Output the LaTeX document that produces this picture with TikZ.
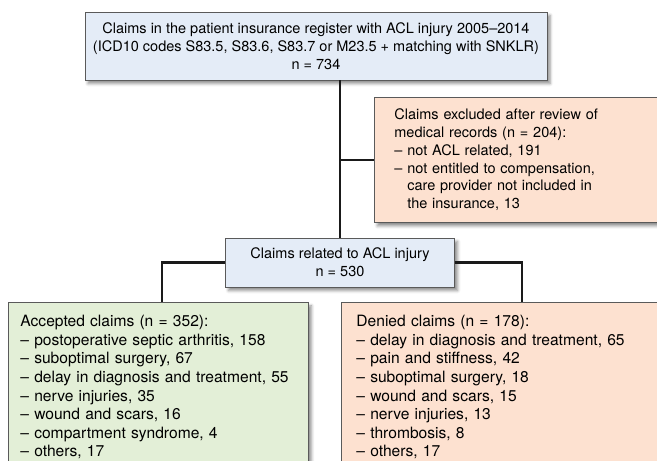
\documentclass[tikz,border=0pt]{standalone}
\usepackage{fontspec}
\setmainfont{TeX Gyre Heros}
\usetikzlibrary{shadows.blur}
\definecolor{bluebox}{HTML}{E4ECF7}
\definecolor{pinkbox}{HTML}{FDE1D0}
\definecolor{greenbox}{HTML}{E3EFD7}
\definecolor{boxline}{HTML}{5A5A5A}
\definecolor{connline}{HTML}{1A1A1A}
\begin{document}
\begin{tikzpicture}[x=1pt,y=-1pt,
  box/.style={draw=boxline, line width=0.8pt,
    blur shadow={shadow xshift=3pt, shadow yshift=-3.5pt, shadow blur radius=3pt, shadow opacity=45},
    font=\fontsize{14.5}{17.8}\selectfont},
  conn/.style={draw=connline, line width=2.8pt}]
\useasboundingbox (0,0) rectangle (657,461);

\node[box, fill=bluebox, minimum width=462pt, minimum height=68pt, align=center] (top) at (316,46)
  {Claims in the patient insurance register with ACL injury 2005–2014\\
   (ICD10 codes S83.5, S83.6, S83.7 or M23.5 + matching with SNKLR)\\
   n = 734};

\node[box, fill=pinkbox, anchor=north west, minimum width=310pt, minimum height=125pt,
  inner xsep=18pt, text width=270pt, align=left] (exc) at (374,97)
  {Claims excluded after review of\\
   medical records (n = 204):\\
   – not ACL related, 191\\
   – not entitled to compensation,\\
   \phantom{– }care provider not included in\\
   \phantom{– }the insurance, 13};

\node[box, fill=bluebox, minimum width=229pt, minimum height=49pt, align=center] (mid) at (340,262.5)
  {Claims related to ACL injury\\ n = 530};

\node[box, fill=greenbox, anchor=north west, minimum width=300pt, inner xsep=12pt, inner ysep=13pt,
  text width=276pt, align=left, font=\fontsize{15.6}{18.6}\selectfont] (acc) at (8,302)
  {Accepted claims (n = 352):\\
   – postoperative septic arthritis, 158\\
   – suboptimal surgery, 67\\
   – delay in diagnosis and treatment, 55\\
   – nerve injuries, 35\\
   – wound and scars, 16\\
   – compartment syndrome, 4\\
   – others, 17};

\node[box, fill=pinkbox, anchor=north west, minimum width=330pt, inner xsep=15pt, inner ysep=13pt,
  text width=300pt, align=left, font=\fontsize{15.6}{18.6}\selectfont] (den) at (341,302)
  {Denied claims (n = 178):\\
   – delay in diagnosis and treatment, 65\\
   – pain and stiffness, 42\\
   – suboptimal surgery, 18\\
   – wound and scars, 15\\
   – nerve injuries, 13\\
   – thrombosis, 8\\
   – others, 17};

\coordinate (lcorner) at (162,262.5);
\coordinate (rcorner) at (522,262.5);
\draw[conn] (mid.north |- top.south) -- (mid.north);
\draw[conn] (mid.north |- exc.west) -- (exc.west);
\draw[conn] (mid.west) -- (lcorner) -- (lcorner |- acc.north);
\draw[conn] (mid.east) -- (rcorner) -- (rcorner |- den.north);
\end{tikzpicture}
\end{document}
